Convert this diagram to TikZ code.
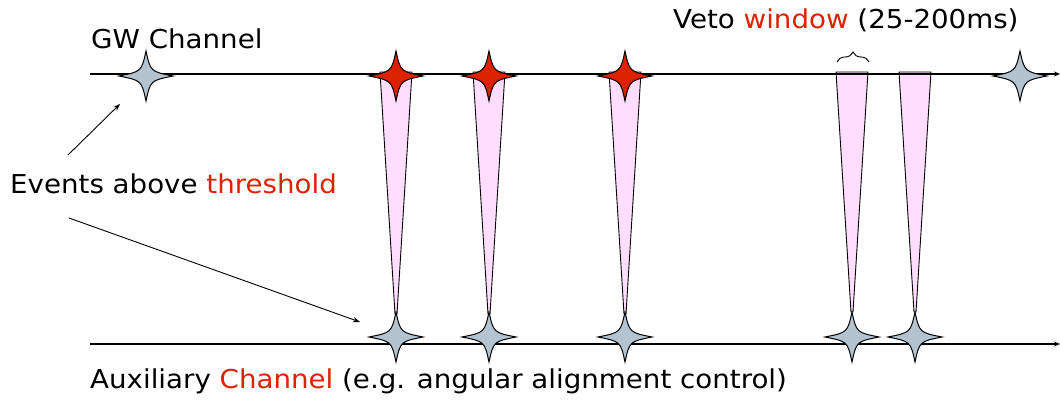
\documentclass[tikz,border=0pt]{standalone}
\usepackage{fontspec}
\setmainfont[FakeStretch=1.065]{DejaVu Sans}
\usetikzlibrary{arrows.meta,decorations.pathreplacing}
\definecolor{evred}{HTML}{DD2200}
\definecolor{stargray}{HTML}{B4C3D0}
\definecolor{vetopink}{HTML}{FFDDFF}
\tikzset{
  lbl/.style={anchor=base west,inner sep=0pt,font=\fontsize{26}{30}\selectfont},
  chan/.style={line width=1.2pt,-{Stealth[length=6pt,width=5pt]}},
  pointer/.style={line width=0.9pt,-{Stealth[length=7pt,width=5pt]}},
  wedge/.style={draw=black,line width=0.9pt,fill=vetopink},
  pics/star/.style={code={
    \draw[line width=1pt,fill=#1] (0,-25) .. controls (4.5,-4.5) .. (27,0)
      .. controls (4.5,4.5) .. (0,25) .. controls (-4.5,4.5) .. (-27,0)
      .. controls (-4.5,-4.5) .. cycle;}}
}
\begin{document}
\begin{tikzpicture}[x=1pt,y=-1pt]
\useasboundingbox (0,0) rectangle (1060,402);
% wedges (veto windows)
\foreach \x/\b in {396/314,489/314,625/314,852/312,915/312}{
  \draw[wedge] (\x-16,72) -- (\x+16,72) -- (\x+1,\b) -- (\x-1,\b) -- cycle;
}
% channels
\coordinate (gwL) at (90,74);
\coordinate (gwR) at (1060,74);
\coordinate (auxL) at (90,344);
\coordinate (auxR) at (1060,344);
\draw[chan] (gwL) -- (gwR);
\draw[chan] (auxL) -- (auxR);
% stars on GW channel
\pic at (146,76) {star=stargray};
\pic at (1020,76) {star=stargray};
\foreach \x in {396,489,625}{ \pic at (\x,76) {star=evred}; }
% stars on aux channel
\foreach \x in {396,489,625,852,915}{ \pic at (\x,337) {star=stargray}; }
% brace
\coordinate (brL) at (837,62);
\coordinate (brR) at (869,62);
\draw[line width=0.9pt,decorate,decoration={brace,amplitude=10pt}] (brL) -- (brR);
% labels
\node[lbl] (gw) at (91,48) {GW Channel};
\node[lbl] (veto) at (673,28) {Veto \textcolor{evred}{window} (25-200ms)};
\node[lbl] (ev) at (10,193) {Events above \textcolor{evred}{threshold}};
\node[lbl] (aux) at (90,388) {Auxiliary \textcolor{evred}{Channel} (e.g. angular alignment control)};
% pointers
\coordinate (p1s) at (68,155);
\coordinate (p1e) at (120,104);
\coordinate (p2s) at (69,218);
\coordinate (p2e) at (360,322);
\draw[pointer] (p1s) -- (p1e);
\draw[pointer] (p2s) -- (p2e);
\end{tikzpicture}
\end{document}
